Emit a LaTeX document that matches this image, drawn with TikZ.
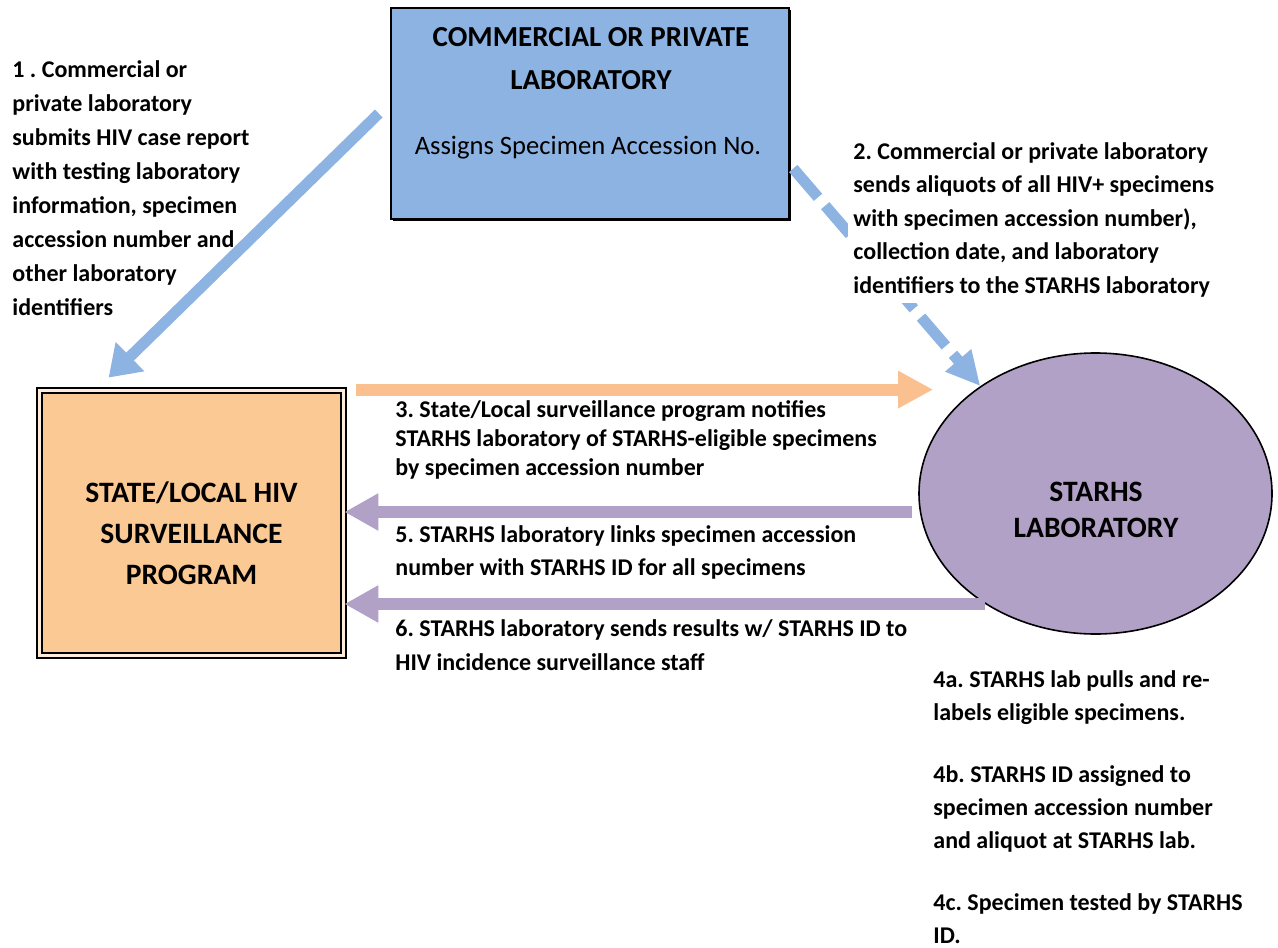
\documentclass[tikz,border=0pt]{standalone}
\usepackage{fontspec}
\setmainfont{Carlito}
\usetikzlibrary{arrows.meta,calc,positioning,shapes.geometric,shadows}
\definecolor{labblue}{RGB}{141,179,226}
\definecolor{progorange}{RGB}{251,201,148}
\definecolor{arroworange}{RGB}{250,192,144}
\definecolor{labpurple}{RGB}{178,161,199}
\frenchspacing
\tikzset{
labbox/.style={
  rectangle,
  line width=1.25pt,
  draw=black,
  fill=labblue,
  minimum width=199pt,
  minimum height=105.5pt,
  drop shadow={shadow xshift=1pt, shadow yshift=-1pt, fill=black, opacity=1},
  }
}
\tikzset{
progbox/.style={
  rectangle,
  line width=0.9pt,
  draw=black,
  double=progorange!35!white,
  double distance=1.5pt,
  fill=progorange,
  minimum width=152pt,
  minimum height=132.5pt,
  }
}
\tikzset{
starhsell/.style={
  ellipse,
  line width=0.8pt,
  draw=black,
  fill=labpurple,
  inner sep=0pt,
  minimum width=176.5pt,
  minimum height=140.5pt,
  }
}
\tikzset{
stepnote/.style={
  align=left,
  inner sep=0pt,
  anchor=base west,
  }
}
\tikzset{
blueline/.style={
  line width=5.5pt,
  color=labblue,
  -{Triangle[length=15pt,width=19.5pt]}
  },
bluedash/.style={
  line width=5.5pt,
  color=labblue,
  dash pattern=on 19pt off 5.5pt,
  -{Triangle[length=17pt,width=16pt]}
  },
orangeline/.style={
  line width=6pt,
  color=arroworange,
  -{Triangle[length=17.5pt,width=17.5pt]}
  },
purpleline/.style={
  line width=6pt,
  color=labpurple,
  -{Triangle[length=17pt,width=17.5pt]}
  }
}

\begin{document}
\frenchspacing
\begin{tikzpicture}[x=0.5pt,y=-0.5pt]
    \useasboundingbox (0,0) rectangle (1278,947);

    % commercial laboratory part
    \node[labbox] (com_lab) at (590,113.5) {};
    \node[align=center, font=\bfseries\fontsize{14.5}{21.5}\selectfont] (com_title) at (591,58.5) {COMMERCIAL OR PRIVATE\\LABORATORY};
    \node[font=\fontsize{13.3}{15}\selectfont] (com_sub) at (588,148) {Assigns Specimen Accession No.};

    % surveillance program part
    \node[progbox] (state_prog) at (191.5,523) {};
    \node[align=center, font=\bfseries\fontsize{14.8}{20.5}\selectfont] (state_title) at (191.5,533) {STATE/LOCAL HIV\\SURVEILLANCE\\PROGRAM};

    % starhs laboratory part
    \node[starhsell] (starhs_lab) at (1095.5,493.5) {};
    \node[align=center, font=\bfseries\fontsize{14.8}{18}\selectfont] (starhs_title) at (1096,510) {STARHS\\LABORATORY};

    % connector ends
    \coordinate (a1s) at ([xshift=-5.5pt]com_lab.west);
    \coordinate (a1e) at ([xshift=35pt,yshift=6pt]state_prog.north west);
    \coordinate (a2s) at ([xshift=1.5pt,yshift=-27.5pt]com_lab.east);
    \coordinate (a3s) at ([xshift=6pt]state_prog.north east);
    \coordinate (a3e) at ($(starhs_lab.west |- a3s)+(15,0)$);
    \coordinate (a5s) at ($(starhs_lab.west)+(-6,18.5)$);

    % lab to program edges
    \draw[blueline] (a1s) -- (a1e);
    \draw[bluedash] (a2s) -- (starhs_lab.137);

    % program to starhs edges
    \draw[orangeline] (a3s) -- (a3e);
    \draw[purpleline] (a5s) -- (state_prog.east |- a5s);
    \draw[purpleline] (starhs_lab.225) -- (state_prog.east |- starhs_lab.225);

    % step notes (anchored at the baseline of the last line)
    \node[stepnote, font=\bfseries\fontsize{12}{17}\selectfont] (note_1) at (12,315) {1 . Commercial or\\private laboratory\\submits HIV case report\\with testing laboratory\\information, specimen\\accession number and\\other laboratory\\identifiers};
    \node[stepnote, fill=white, inner xsep=2.5pt, inner ysep=3pt, font=\bfseries\fontsize{12}{16.7}\selectfont] (note_2) at (848,293) {2. Commercial or private laboratory\\sends aliquots of all HIV+ specimens\\with specimen accession number),\\collection date, and laboratory\\identifiers to the STARHS laboratory};
    \node[stepnote, font=\bfseries\fontsize{12}{14.5}\selectfont] (note_3) at (395,475) {3. State/Local surveillance program notifies\\STARHS laboratory of STARHS-eligible specimens\\by specimen accession number};
    \node[stepnote, font=\bfseries\fontsize{12}{16.5}\selectfont] (note_5) at (395,575) {5. STARHS laboratory links specimen accession\\number with STARHS ID for all specimens};
    \node[stepnote, font=\bfseries\fontsize{12}{17}\selectfont] (note_6) at (395,670) {6. STARHS laboratory sends results w/ STARHS ID to\\HIV incidence surveillance staff};
    \node[stepnote, font=\bfseries\fontsize{12}{16.5}\selectfont] (note_4) at (933,943) {4a. STARHS lab pulls and re-\\labels eligible specimens.\\[14.5pt]4b. STARHS ID assigned to\\specimen accession number\\and aliquot at STARHS lab.\\[14.5pt]4c. Specimen tested by STARHS\\ID.};
\end{tikzpicture}
\end{document}
